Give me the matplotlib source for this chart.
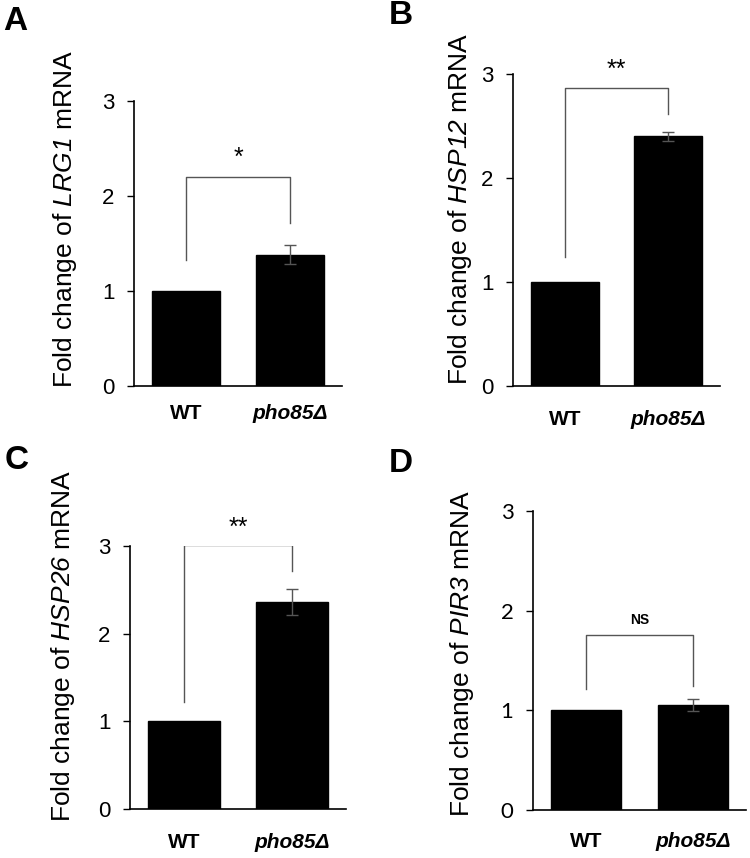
import matplotlib
matplotlib.use("Agg")
import matplotlib.pyplot as plt

plt.rcParams['font.family'] = ['Liberation Sans', 'DejaVu Sans']
plt.rcParams['mathtext.fontset'] = 'custom'
plt.rcParams['mathtext.rm'] = 'Liberation Sans'
plt.rcParams['mathtext.sf'] = 'Liberation Sans:italic'

categories = ["WT", "pho85Δ"]
genes = ["LRG1", "HSP12", "HSP26", "PIR3"]
panel_letters = ["A", "B", "C", "D"]
means = {"LRG1": [1.0, 1.38], "HSP12": [1.0, 2.40], "HSP26": [1.0, 2.36], "PIR3": [1.0, 1.055]}
errors = {"LRG1": [0.0, 0.10], "HSP12": [0.0, 0.04], "HSP26": [0.0, 0.15], "PIR3": [0.0, 0.06]}
sig_labels = {"LRG1": "*", "HSP12": "**", "HSP26": "**", "PIR3": "NS"}
# bracket: (top, left drop end, right drop end, label y)
brackets = {"LRG1": (2.2, 1.33, 1.72, 2.27),
            "HSP12": (2.87, 1.24, 2.62, 2.92),
            "HSP26": (3.01, 1.22, 2.71, 3.07),
            "PIR3": (1.76, 1.21, 1.24, 1.84)}
yticks = [0, 1, 2, 3]

W, H = 750, 858
fig = plt.figure(figsize=(7.5, 8.58), dpi=100)

# axes boxes in pixels: (left, top, right, bottom)
boxes = {"LRG1": (134, 101, 342, 386),
         "HSP12": (513, 74, 720, 386),
         "HSP26": (130, 546, 346, 809),
         "PIR3": (533, 511, 746, 810)}
xpads = {"LRG1": 13, "HSP12": 17, "HSP26": 17.5, "PIR3": 16}
ylabel_pos = {"LRG1": (65, 219), "HSP12": (460, 209), "HSP26": (63, 646), "PIR3": (462, 653)}
letter_pos = {"A": (15, 22), "B": (401, 15), "C": (17, 460), "D": (401, 464)}

for gene, letter in zip(genes, panel_letters):
    l, t, r, b = boxes[gene]
    ax = fig.add_axes([l / W, 1 - b / H, (r - l) / W, (b - t) / H])
    x = [0, 1]
    ax.bar(x, means[gene], width=0.66, color='black', edgecolor='black')
    ax.errorbar([1], [means[gene][1]], yerr=[errors[gene][1]], fmt='none',
                ecolor='#555555', elinewidth=1, capsize=4, capthick=1)
    top, ld, rd, ty = brackets[gene]
    ax.plot([0, 0, 1, 1], [ld, top, top, rd], color='#555555', lw=1)
    if gene == "PIR3":
        ax.text(0.5, ty, sig_labels[gene], ha='center', va='bottom', fontsize=10, fontweight='bold')
    else:
        ax.text(0.5, ty, sig_labels[gene], ha='center', va='bottom', fontsize=18)
    ax.set_xlim(-0.5, 1.5)
    ax.set_ylim(0, 3)
    ax.set_yticks(yticks)
    tick_font = 'Lato' if gene == "PIR3" else 'Liberation Sans'
    ax.set_yticklabels([str(v) for v in yticks], fontsize=16, family=tick_font)
    ax.tick_params(axis='y', direction='out', length=5, width=1, pad=9)
    ax.set_xticks(x)
    ax.set_xticklabels(categories, fontsize=15, fontweight='bold')
    ax.get_xticklabels()[1].set_fontstyle('italic')
    ax.tick_params(axis='x', length=0, pad=xpads[gene])
    for s in ['top', 'right']:
        ax.spines[s].set_visible(False)
    ax.spines['left'].set_linewidth(1.2)
    ax.spines['bottom'].set_linewidth(1.2)
    lx, ly = ylabel_pos[gene]
    fig.text(lx / W, 1 - ly / H, "Fold change of $\\mathsf{" + gene + "}$ mRNA",
             rotation=90, ha='center', va='center', fontsize=19)
    px, py = letter_pos[letter]
    fig.text(px / W, 1 - py / H, letter, ha='center', va='center', fontsize=24, fontweight='bold')

fig.savefig("out.png", dpi=100)
